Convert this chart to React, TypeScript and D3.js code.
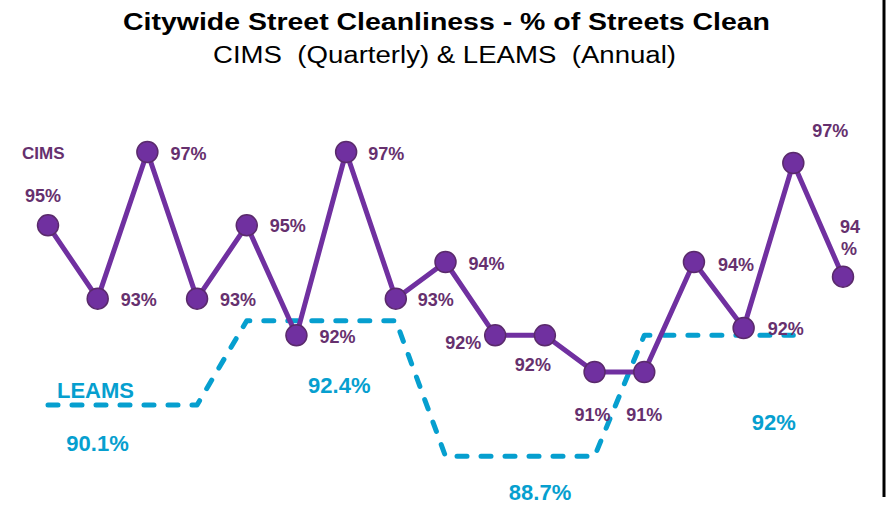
import React from 'react'
import * as d3 from 'd3'

// CIMS quarterly scores (% clean), 17 quarters
const cimsValues = [95, 93, 97, 93, 95, 92, 97, 93, 94, 92, 92, 91, 91, 94, 92.2, 96.7, 93.6]
// LEAMS annual scores, one per year of four quarters
const leamsYears = [90.1, 92.4, 88.7, 92]
const leamsLabels = ['90.1%', '92.4%', '88.7%', '92%']

// where each CIMS value label sits relative to its point
const cimsLabelPlace = [
  { dx: -5, dy: -23, anchor: 'middle' },
  { dx: 23, dy: 7, anchor: 'start' },
  { dx: 23, dy: 8, anchor: 'start' },
  { dx: 23, dy: 7, anchor: 'start' },
  { dx: 23, dy: 7, anchor: 'start' },
  { dx: 23, dy: 8, anchor: 'start' },
  { dx: 22, dy: 8, anchor: 'start' },
  { dx: 22, dy: 7, anchor: 'start' },
  { dx: 23, dy: 8, anchor: 'start' },
  { dx: -14, dy: 14, anchor: 'end' },
  { dx: -12, dy: 36, anchor: 'middle' },
  { dx: -2, dy: 49, anchor: 'middle' },
  { dx: 0, dy: 49, anchor: 'middle' },
  { dx: 24, dy: 9, anchor: 'start' },
  { dx: 24, dy: 7, anchor: 'start' },
  { dx: 37, dy: -26, anchor: 'middle' },
  { dx: 7, dy: -44, anchor: 'middle', wrap: true },
]

// LEAMS label offsets (x relative to year centre, y relative to line)
const leamsLabelPlace = [
  { dx: -25, dy: 46 },
  { dx: 18, dy: 72 },
  { dx: 20, dy: 44 },
  { dx: 55, dy: 95 },
]

const purple = '#7030a0'
const labelPurple = '#66306e'
const blue = '#069fcf'
const font = 'Liberation Sans, Arial, sans-serif'

export default function App() {
  const width = 890
  const height = 507

  const x = d3.scaleLinear().domain([0, 16]).range([48, 843])
  const y = d3.scaleLinear().domain([91, 97]).range([372, 152])

  const cimsLine = d3.line<number>()
    .x((d, i) => x(i))
    .y(d => y(d))

  const leamsQuarterly: number[] = []
  leamsYears.forEach(v => { for (let q = 0; q < 4; q++) leamsQuarterly.push(v) })

  const leamsLine = d3.line<number>()
    .x((d, i) => x(i))
    .y(d => y(d))

  return (
    <svg width={width} height={height} style={{ position: 'absolute', left: 0, top: 0, background: '#fff' }}>
      <rect width={width} height={height} fill="#fff" />
      <text x={446.5} y={30} textAnchor="middle" fontFamily={font} fontWeight="bold" fontSize={23} fill="#000"
        textLength={647} lengthAdjust="spacingAndGlyphs">
        Citywide Street Cleanliness - % of Streets Clean
      </text>
      <text x={444.5} y={63} textAnchor="middle" fontFamily={font} fontSize={23} fill="#000" style={{ whiteSpace: 'pre' }}
        textLength={463} lengthAdjust="spacingAndGlyphs">
        {'CIMS  (Quarterly) & LEAMS  (Annual)'}
      </text>

      <line x1={884} x2={884} y1={0} y2={497} stroke="#000" strokeWidth={3} />

      {/* LEAMS dashed line */}
      <path d={leamsLine(leamsQuarterly) || ''} fill="none" stroke={blue} strokeWidth={5}
        strokeDasharray="10 14" strokeLinecap="round" strokeLinejoin="round" />

      {/* CIMS line */}
      <path d={cimsLine(cimsValues) || ''} fill="none" stroke={purple} strokeWidth={5} strokeLinejoin="round" />
      {cimsValues.map((v, i) => (
        <circle key={i} cx={x(i)} cy={y(v)} r={10.5} fill={purple} stroke="#5a2a6c" strokeWidth={1.5} />
      ))}

      {cimsValues.map((v, i) => {
        const p = cimsLabelPlace[i]
        const label = Math.round(v) + '%'
        if (p.wrap) {
          return (
            <text key={i} x={x(i) + p.dx} y={y(v) + p.dy} textAnchor="middle" fontFamily={font}
              fontWeight="bold" fontSize={18} fill={labelPurple}>
              <tspan x={x(i) + p.dx}>{String(Math.round(v))}</tspan>
              <tspan x={x(i) + p.dx - 1} dy={22}>%</tspan>
            </text>
          )
        }
        return (
          <text key={i} x={x(i) + p.dx} y={y(v) + p.dy} textAnchor={p.anchor} fontFamily={font}
            fontWeight="bold" fontSize={18} fill={labelPurple}>
            {label}
          </text>
        )
      })}

      <text x={22} y={159} fontFamily={font} fontWeight="bold" fontSize={17} fill={labelPurple}>CIMS</text>
      <text x={57} y={398} fontFamily={font} fontWeight="bold" fontSize={22} fill={blue}>LEAMS</text>

      {leamsYears.map((v, i) => {
        const p = leamsLabelPlace[i]
        const cx = (x(i * 4) + x(i * 4 + 3)) / 2
        return (
          <text key={i} x={cx + p.dx} y={y(v) + p.dy} textAnchor="middle" fontFamily={font}
            fontWeight="bold" fontSize={22} fill={blue}>
            {leamsLabels[i]}
          </text>
        )
      })}
    </svg>
  )
}
